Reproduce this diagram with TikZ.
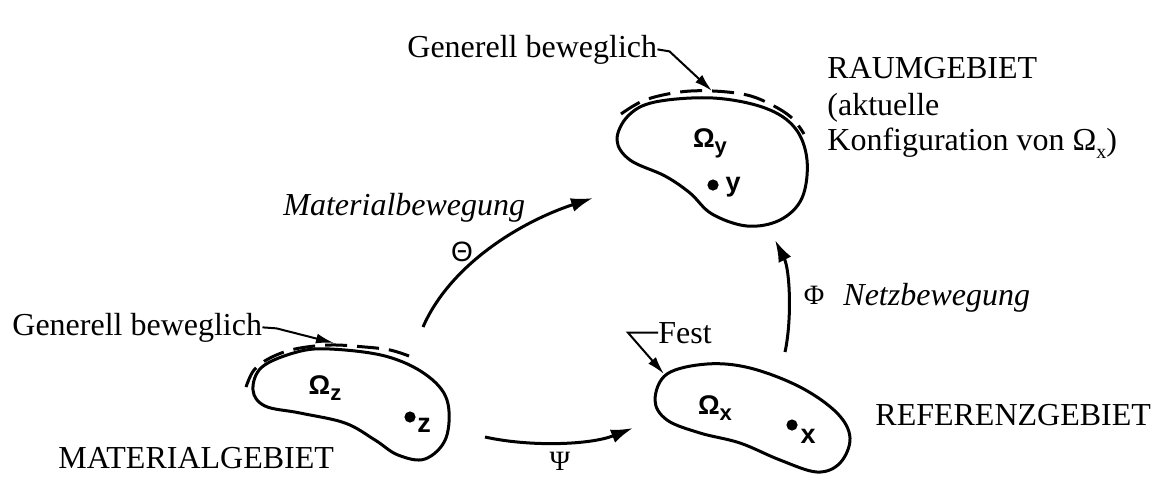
\documentclass[tikz,border=0pt]{standalone}
\usepackage{fontspec}
\setmainfont{Liberation Serif}
\newfontfamily\lsans{Liberation Sans}
\usetikzlibrary{arrows.meta}
\begin{document}
\begin{tikzpicture}[x=0.5pt,y=-0.5pt,
  txt/.style={inner sep=0pt, font=\fontsize{16}{18}\selectfont},
  itxt/.style={inner sep=0pt, font=\fontsize{16}{18}\selectfont\itshape},
  outline/.style={line width=1.5pt, line join=round},
  movable/.style={line width=1.5pt, dash pattern=on 11pt off 5pt},
  mapping/.style={line width=1.5pt, -{Latex[length=11pt,width=7pt]}},
  leader/.style={line width=1pt, -{Latex[length=9pt,width=5pt]}},
  omlabel/.style={inner sep=0pt, font=\lsans\bfseries\fontsize{13.5}{15}\selectfont},
  ptlabel/.style={inner sep=0pt, font=\lsans\bfseries\fontsize{13.5}{15}\selectfont},
  greek/.style={inner sep=0pt, font=\fontsize{14}{16}\selectfont},
  sgreek/.style={inner sep=0pt, font=\lsans\fontsize{14}{16}\selectfont},
]
\useasboundingbox (0,0) rectangle (1160,489);

% ---------- Raumgebiet (Omega_y) ----------
\draw[outline] plot[smooth cycle, tension=0.6] coordinates {
  (617,140) (628,116) (655,102) (713,98) (765,108) (795,128) (807,160)
  (802,198) (780,220) (747,226) (712,214) (690,193) (665,176) (630,160)};
\draw[movable] plot[smooth, tension=0.6] coordinates {
  (621,114) (645,100) (680,92) (713,91) (747,95) (772,105) (792,118) (804,134)};
\node[omlabel] (omy) at (710,143) {Ω\raisebox{-3pt}{\fontsize{11}{12}\selectfont y}};
\fill (713,185) circle (2.8pt);
\node[ptlabel] (py) at (733,187) {y};

% ---------- Materialgebiet (Omega_z) ----------
\draw[outline] plot[smooth cycle, tension=0.6] coordinates {
  (253,390) (262,367) (297,352) (330,349) (385,356) (425,374) (447,400)
  (446,438) (425,459) (398,455) (375,440) (345,423) (300,413) (265,406)};
\draw[movable] plot[smooth, tension=0.6] coordinates {
  (246,387) (254,370) (270,358) (295,349) (330,345) (365,347) (390,350) (409,356)};
\node[omlabel] (omz) at (325,388) {Ω\raisebox{-3pt}{\fontsize{11}{12}\selectfont z}};
\fill (410,417) circle (2.8pt);
\node[ptlabel] (pz) at (424,425) {z};

% ---------- Referenzgebiet (Omega_x) ----------
\draw[outline] plot[smooth cycle, tension=0.6] coordinates {
  (655,400) (667,374) (707,364) (750,368) (800,387) (837,413) (850,438)
  (840,463) (817,472) (780,460) (740,443) (700,433) (667,420)};
\node[omlabel] (omx) at (715,408) {Ω\raisebox{-3pt}{\fontsize{11}{12}\selectfont x}};
\fill (792,425) circle (2.8pt);
\node[ptlabel] (px) at (808,436) {x};

% ---------- texts ----------
\node[txt, anchor=base west] (gb2) at (407,57) {Generell beweglich};
\node[txt, anchor=base west] (gb1) at (12,335) {Generell beweglich};
\node[txt, anchor=base west] (fest) at (658,343) {Fest};
\node[txt, anchor=base west] (raum1) at (827,78) {RAUMGEBIET};
\node[txt, anchor=base west] (raum2) at (827,115) {(aktuelle};
\node[txt, anchor=base west] (raum3) at (827,150) {Konfiguration von Ω\raisebox{-4pt}{\fontsize{10}{12}\selectfont x})};
\node[txt, anchor=base west] (mat) at (58,468) {MATERIALGEBIET};
\node[txt, anchor=base west] (ref) at (875,425) {REFERENZGEBIET};
\node[itxt, anchor=base west] (matbew) at (283,215) {Materialbewegung};
\node[itxt, anchor=base west] (netzbew) at (843,305) {Netzbewegung};
\node[sgreek] (theta) at (462,252) {Θ};
\node[greek] (phi) at (814,295) {Φ};
\node[greek] (psi) at (560,461) {Ψ};

% ---------- leaders ----------
\coordinate (tipy) at (712,91);
\coordinate (tipz) at (334,343);
\coordinate (tipx) at (664,374);
\draw[leader] (gb2.east) -- ++(12,2) -- (tipy);
\draw[leader] (gb1.east) -- ++(14,1) -- (tipz);
\draw[leader] (fest.west) -- ++(-30,0) -- (tipx);

% ---------- mappings ----------
\coordinate (thS) at (423,327);
\coordinate (thE) at (593,198);
\coordinate (psS) at (485,437);
\coordinate (psE) at (633,428);
\coordinate (phS) at (785,352);
\coordinate (phE) at (775,240);
\draw[mapping] (thS) .. controls (450,265) and (520,222) .. (thE);
\draw[mapping] (psS) .. controls (530,447) and (590,445) .. (psE);
\draw[mapping] (phS) .. controls (792,320) and (790,270) .. (phE);
\end{tikzpicture}
\end{document}
